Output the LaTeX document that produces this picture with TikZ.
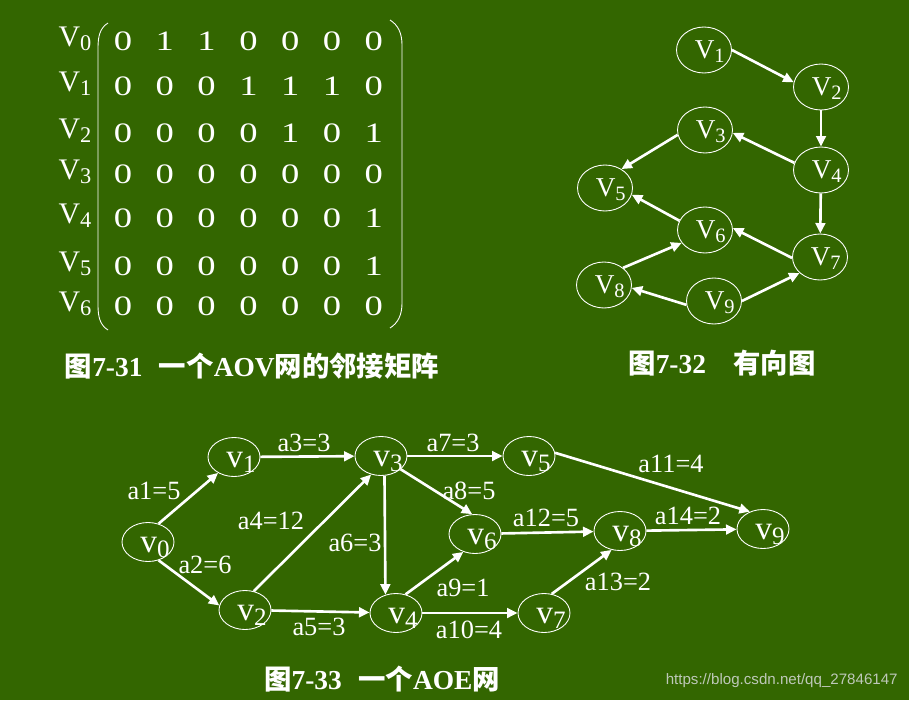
\documentclass[tikz,border=0pt]{standalone}
\usepackage{fontspec}
\setmainfont{Liberation Serif}
\newfontfamily\cjk{Noto Sans CJK SC}
\newfontfamily\wmfont{Liberation Sans}
\newfontfamily\widenum{Liberation Serif}[FakeStretch=1.3]
\usetikzlibrary{shapes.geometric}
\usetikzlibrary{arrows.meta}

\definecolor{boardgreen}{RGB}{51,102,0}
\definecolor{markgray}{RGB}{190,200,185}

\newcommand{\cz}[1]{{\cjk\bfseries #1}}
\newcommand{\idx}[2]{#1\raisebox{-0.15em}{\scalebox{0.75}{#2}}}
\newcommand{\nlab}[2]{\makebox[0pt]{\raisebox{-0.3em}[0pt][0pt]{\hspace{0.42em}\idx{#1}{#2}}}}

\begin{document}
\begin{tikzpicture}[x=0.02cm, y=-0.02cm,
	cell/.style={text=white, font=\widenum\fontsize{16}{16}\selectfont, inner sep=0pt, anchor=base},
	rowlbl/.style={text=white, font=\fontsize{17}{17}\selectfont, inner sep=0pt, anchor=base},
	vtx/.style={ellipse, draw=white, line width=0.5pt, text=white, inner sep=0pt, minimum width=1.1cm, minimum height=0.92cm, font=\fontsize{15.5}{15.5}\selectfont},
	evt/.style={ellipse, draw=white, line width=0.5pt, text=white, inner sep=0pt, minimum width=1.04cm, minimum height=0.78cm, font=\fontsize{19}{19}\selectfont},
	arc/.style={white, line width=1.5pt, -{Triangle[length=6pt,width=5.5pt]}},
	wt/.style={text=white, font=\fontsize{15}{15}\selectfont, inner sep=0pt},
	captxt/.style={text=white, font=\fontsize{15.6}{15.6}\selectfont\bfseries, inner sep=0pt, anchor=base}]

		\fill[boardgreen] (0,0) rectangle (909,700);
		\useasboundingbox (0,0) rectangle (909,700);

		% adjacency matrix
		\foreach \r/\y/\vals in {0/50/{0,1,1,0,0,0,0}, 1/95/{0,0,0,1,1,1,0}, 2/142/{0,0,0,0,1,0,1}, 3/183/{0,0,0,0,0,0,0}, 4/227/{0,0,0,0,0,0,1}, 5/275/{0,0,0,0,0,0,1}, 6/315/{0,0,0,0,0,0,0}} {
			\node[rowlbl] (r\r) at (75,\y-4) {\idx{V}{\r}};
			\foreach \v [count=\c from 0] in \vals
				\node[cell] (m\r\c) at ({123+41.8*\c},\y) {\v};
		}
		\draw[white, line width=0.5pt] (108,23) .. controls (100,28) and (98,36) .. (98,48) -- (98,305) .. controls (98,317) and (100,325) .. (108,330);
		\draw[white, line width=0.5pt] (390,20) .. controls (398,25) and (402,33) .. (402,45) -- (402,303) .. controls (402,315) and (398,323) .. (390,328);
		\node[captxt] (cap1) at (252,376) {\cz{图}7-31\hspace{0.6em}\cz{一个}AOV\cz{网的邻接矩阵}};

		% directed graph
		\node[vtx] (n1) at (704,50) {\nlab{V}{1}};
		\node[vtx] (n2) at (821,87) {\nlab{V}{2}};
		\node[vtx] (n3) at (705,130) {\nlab{V}{3}};
		\node[vtx] (n4) at (821,170) {\nlab{V}{4}};
		\node[vtx] (n5) at (605,188) {\nlab{V}{5}};
		\node[vtx] (n6) at (705,230) {\nlab{V}{6}};
		\node[vtx] (n7) at (820,257) {\nlab{V}{7}};
		\node[vtx] (n8) at (604,285) {\nlab{V}{8}};
		\node[vtx] (n9) at (714,301) {\nlab{V}{9}};
		\foreach \a/\b in {n1.0/n2.170, n2/n4, n4/n7, n4.165/n3.-6, n3.190/n5.49, n6.160/n5.-14, n7.182/n6.4, n8.42/n6.209, n9.188/n8.-6, n9.0/n7.218}
			\draw[arc] (\a) -- (\b);
		\node[captxt] (cap2) at (722,373) {\cz{图}7-32\hspace{1em}\cz{有向图}};

		% AOE network
		\node[evt] (e0) at (148,542) {\nlab{v}{0}};
		\node[evt] (e1) at (234,457) {\nlab{v}{1}};
		\node[evt] (e2) at (245,610) {\nlab{v}{2}};
		\node[evt] (e3) at (381,456) {\nlab{v}{3}};
		\node[evt] (e4) at (396,613) {\nlab{v}{4}};
		\node[evt] (e5) at (529,456) {\nlab{v}{5}};
		\node[evt] (e6) at (475,534) {\nlab{v}{6}};
		\node[evt] (e7) at (544,613) {\nlab{v}{7}};
		\node[evt] (e8) at (620,531) {\nlab{v}{8}};
		\node[evt] (e9) at (763,529) {\nlab{v}{9}};
		\foreach \a/\b in {e0.60/e1.225, e0.-60/e2.170, e1/e3, e2.65/e3.242, e2/e4, e3/e5, e3.-34/e6.98, e3.-80/e4.120, e4.63/e6.237, e4/e7, e5.7/e9.127, e6/e8, e7.68/e8.246, e8/e9}
			\draw[arc] (\a) -- (\b);
		\foreach \k/\w/\x/\y in {1/5/154/491, 2/6/205/565, 3/3/304/443, 4/12/271/521, 5/3/319/627, 6/3/355/543, 7/3/453/443, 8/5/469/491, 9/1/463/588, 10/4/469/630, 11/4/671/464, 12/5/546/518, 13/2/618/582, 14/2/688/516}
			\node[wt] (w\k) at (\x,\y) {a\k=\w};
		\node[captxt] (cap3) at (382,689) {\cz{图}7-33\hspace{0.6em}\cz{一个}AOE\cz{网}};

		\node[text=markgray, font=\wmfont\fontsize{8.6}{8.6}\selectfont, anchor=base east, inner sep=0pt] (mark) at (898,684) {https://blog.csdn.net/qq\_27846147};
\end{tikzpicture}
\end{document}
